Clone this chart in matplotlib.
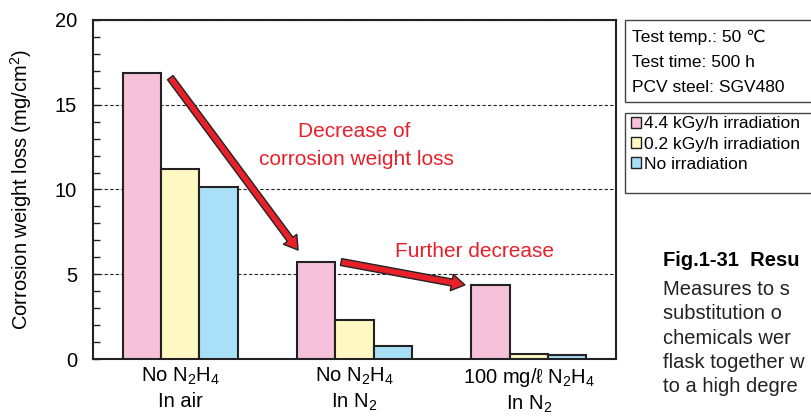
import numpy as np
import matplotlib.pyplot as plt
from matplotlib.patches import FancyArrowPatch, Rectangle
from matplotlib.ticker import MultipleLocator

plt.rcParams['font.family'] = ['Liberation Sans', 'DejaVu Sans']
plt.rcParams['mathtext.default'] = 'regular'

# Data
conditions = ['No N$_2$H$_4$\nIn air', 'No N$_2$H$_4$\nIn N$_2$', '100 mg/ℓ N$_2$H$_4$\nIn N$_2$']
series_names = ['4.4 kGy/h irradiation', '0.2 kGy/h irradiation', 'No irradiation']
loss_high = [16.9, 5.7, 4.35]
loss_low = [11.2, 2.3, 0.3]
loss_none = [10.15, 0.78, 0.22]
yticks = [0, 5, 10, 15, 20]
test_info = ['Test temp.: 50 \u2103', 'Test time: 500 h', 'PCV steel: SGV480']
caption_title = 'Fig.1-31  Resu'
caption_lines = ['Measures to s', 'substitution o', 'chemicals wer', 'flask together w', 'to a high degre']

colors = ['#f6c1da', '#fff8c3', '#aadff8']
red = '#e8202a'
dark = '#222222'

fig = plt.figure(figsize=(8.11, 4.16), dpi=100)
ax = fig.add_axes([0.1147, 0.137, 0.6449, 0.815])

x = np.arange(len(conditions))
w = 0.22
bars = []
for i, vals in enumerate([loss_high, loss_low, loss_none]):
    b = ax.bar(x + (i - 1) * w, vals, w, color=colors[i], edgecolor=dark,
               linewidth=1.5, zorder=3, label=series_names[i])
    bars.append(b)

ax.set_xlim(-0.5, 2.5)
ax.set_ylim(0, 20)
ax.set_yticks(yticks)
ax.yaxis.set_minor_locator(MultipleLocator(1))
ax.yaxis.grid(True, which='major', linestyle=(0, (3, 2)), color=dark, linewidth=0.8)
ax.set_axisbelow(True)
ax.tick_params(axis='y', which='both', direction='in', length=5, width=1, color=dark,
               labelsize=14.5, pad=11.5)
ax.set_xticks(x)
ax.set_xticklabels(conditions, fontsize=14.5, linespacing=1.3)
ax.tick_params(axis='x', length=0, pad=5)
for s in ax.spines.values():
    s.set_linewidth(1.5)
    s.set_color(dark)
ax.set_ylabel('Corrosion weight loss (mg/cm$^2$)', fontsize=14.5)
ax.yaxis.set_label_coords(-0.113, 0.5)

# red arrows + annotations
arrow_style = 'simple,head_length=0.48,head_width=0.6,tail_width=0.25'
for (x0, y0), (x1, y1) in [((-0.057, 16.6), (0.676, 6.43)), ((0.923, 5.72), (1.633, 4.37))]:
    ax.add_patch(FancyArrowPatch((x0, y0), (x1, y1), arrowstyle=arrow_style,
                                 mutation_scale=20, fc=red, ec=dark, lw=1,
                                 shrinkA=0, shrinkB=0, zorder=5))
ax.text(1.0, 13.1, 'Decrease of', color=red, fontsize=15, ha='center', va='baseline')
ax.text(1.01, 11.45, 'corrosion weight loss', color=red, fontsize=15, ha='center', va='baseline')
ax.text(1.69, 6.02, 'Further decrease', color=red, fontsize=15, ha='center', va='baseline')

# test condition box
fig.add_artist(Rectangle((0.7707, 0.7548), 0.3, 0.9519 - 0.7548, transform=fig.transFigure,
                         fc='white', ec='#444444', lw=1))
for k, t in enumerate(test_info):
    fig.text(0.7793, 1 - (42 + 25 * k) / 416, t, fontsize=12.5, va='baseline')

# legend box
fig.add_artist(Rectangle((0.7707, 0.5361), 0.3, 0.7284 - 0.5361, transform=fig.transFigure,
                         fc='white', ec='#444444', lw=1))
leg = fig.legend(handles=bars, labels=series_names, loc='upper left',
                 bbox_to_anchor=(0.7735, 0.7284), frameon=False, fontsize=12.5,
                 handlelength=0.6, handleheight=0.6, handletextpad=0.15,
                 labelspacing=0.3, borderpad=0.2, borderaxespad=0)
for h in leg.legend_handles:
    h.set_linewidth(1)

# caption text (cut at right edge)
fig.text(0.8175, 1 - 266 / 416, caption_title, fontsize=14.5, fontweight='bold', va='baseline')
for k, t in enumerate(caption_lines):
    fig.text(0.8175, 1 - (295 + 24.3 * k) / 416, t, fontsize=14.5, va='baseline', color='#222222')

fig.savefig('out.png', dpi=100)
